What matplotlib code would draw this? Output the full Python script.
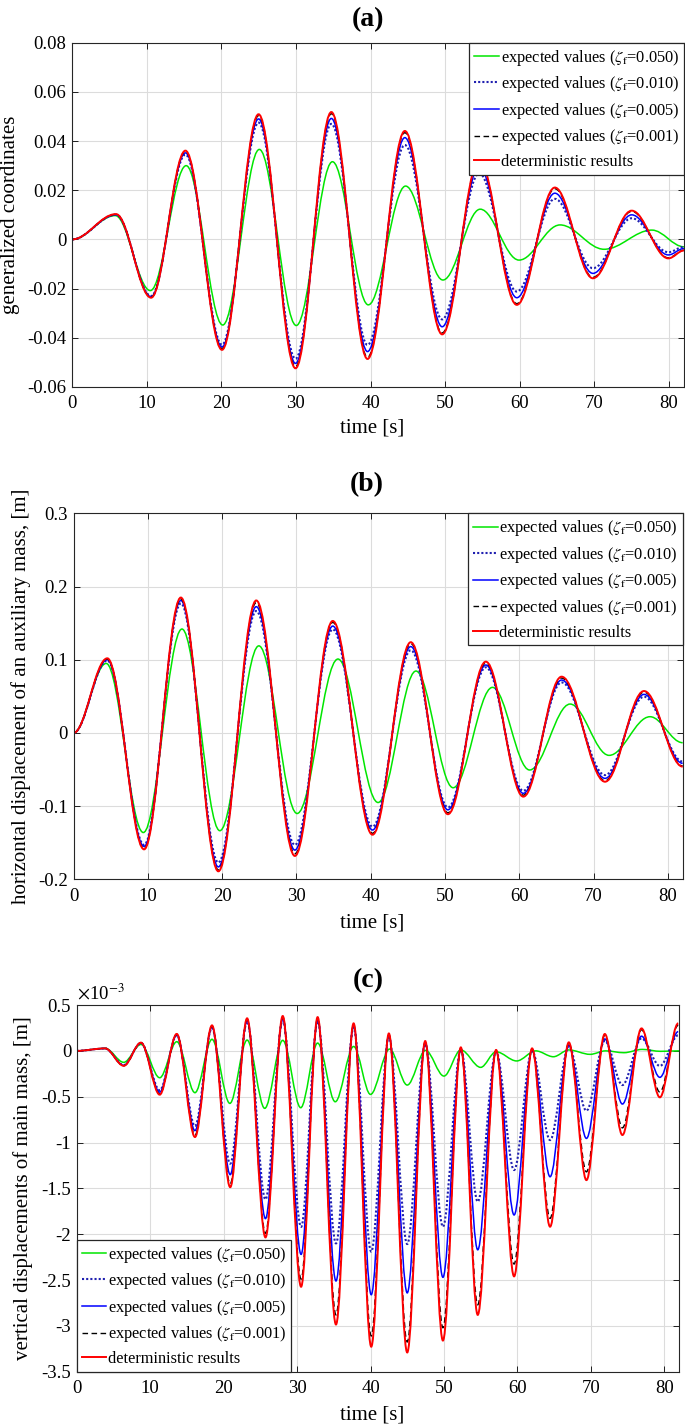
import matplotlib
matplotlib.use('Agg')
import matplotlib.pyplot as plt
from matplotlib.path import Path
from matplotlib.patches import PathPatch
from matplotlib.lines import Line2D
from matplotlib.ticker import FuncFormatter

# ---- data: extrema (time [s], value) of each curve ----
# panel (a): generalized coordinates
t_a = [0, 5.9, 10.6, 15.2, 20.1, 25.0, 29.95, 34.75, 39.6, 44.6, 49.6, 54.55, 59.6, 64.7, 69.8, 75.0, 79.9, 82]
det_a = [0, 0.0103, -0.0237, 0.0361, -0.0449, 0.0509, -0.0524, 0.0518, -0.0486, 0.0441, -0.0386, 0.0323,
         -0.0266, 0.0211, -0.0158, 0.0117, -0.0077, -0.0045]
z001_a = [0, 0.0102, -0.0235, 0.0358, -0.0444, 0.0503, -0.0517, 0.0511, -0.0479, 0.0434, -0.0380, 0.0317,
          -0.0261, 0.0206, -0.0154, 0.0114, -0.0075, -0.0044]
z005_a = [0, 0.0101, -0.0233, 0.0352, -0.0437, 0.0490, -0.0504, 0.0492, -0.0456, 0.0414, -0.0355, 0.0296,
          -0.0237, 0.0188, -0.0138, 0.0100, -0.0063, -0.0037]
z010_a = [0, 0.0100, -0.0230, 0.0345, -0.0428, 0.0475, -0.0485, 0.0470, -0.0429, 0.0384, -0.0325, 0.0269,
          -0.0212, 0.0165, -0.0117, 0.0086, -0.0052, -0.0030]
tg_a = [0, 5.8, 10.5, 15.3, 20.2, 25.1, 30.05, 34.9, 39.7, 44.7, 49.7, 54.7, 59.9, 65.4, 71.3, 77.7, 82]
z050_a = [0, 0.0097, -0.0208, 0.0300, -0.0348, 0.0366, -0.0350, 0.0316, -0.0266, 0.0217, -0.0165, 0.0123,
          -0.0084, 0.0059, -0.0040, 0.0038, -0.0030]

# panel (b): horizontal displacement of an auxiliary mass [m]
t_b = [0, 4.55, 9.5, 14.45, 19.5, 24.6, 29.8, 34.9, 40.25, 45.4, 50.4, 55.5, 60.55, 65.7, 71.55, 76.8, 82]
det_b = [0, 0.102, -0.159, 0.185, -0.189, 0.181, -0.168, 0.153, -0.139, 0.124, -0.111, 0.0974, -0.087,
         0.0769, -0.0666, 0.0573, -0.046]
z001_b = [0, 0.101, -0.158, 0.183, -0.187, 0.178, -0.165, 0.151, -0.137, 0.122, -0.109, 0.0955, -0.085,
          0.075, -0.065, 0.0558, -0.045]
z005_b = [0, 0.100, -0.155, 0.181, -0.183, 0.1725, -0.160, 0.146, -0.1326, 0.118, -0.105, 0.0928, -0.0825,
          0.0723, -0.062, 0.0527, -0.0415]
z010_b = [0, 0.099, -0.153, 0.177, -0.177, 0.1666, -0.153, 0.1415, -0.128, 0.113, -0.1016, 0.0896, -0.079,
          0.069, -0.0575, 0.0495, -0.039]
tg_b = [0, 4.4, 9.4, 14.6, 19.7, 24.95, 30.1, 35.6, 41.0, 46.1, 51.1, 56.4, 61.4, 66.85, 72.1, 77.6, 82]
z050_b = [0, 0.095, -0.136, 0.142, -0.1335, 0.119, -0.110, 0.101, -0.095, 0.0846, -0.0748, 0.0623, -0.0506,
          0.0395, -0.0306, 0.0222, -0.0133]

# panel (c): vertical displacements of main mass [m], in units of 1e-3
t_c = [0, 3.87, 6.4, 8.75, 11.3, 13.62, 16.1, 18.42, 20.9, 23.2, 25.7, 28.05, 30.55, 32.8, 35.3, 37.7, 40.1,
       42.5, 45.0, 47.45, 49.86, 52.3, 54.6, 57.1, 59.55, 62.0, 64.45, 67.0, 69.4, 71.9, 74.3, 76.9, 79.4, 81.9]
det_c = [0, 0.027, -0.163, 0.09, -0.478, 0.185, -0.94, 0.278, -1.487, 0.355, -2.035, 0.38, -2.573, 0.368,
         -2.985, 0.30, -3.227, 0.19, -3.29, 0.107, -3.16, 0.038, -2.88, 0.01, -2.46, 0.027, -1.918, 0.093,
         -1.41, 0.184, -0.918, 0.245, -0.507, 0.30]
z001_c = [0, 0.027, -0.162, 0.089, -0.47, 0.18, -0.92, 0.27, -1.45, 0.345, -1.99, 0.37, -2.49, 0.358, -2.88,
          0.29, -3.11, 0.18, -3.175, 0.10, -3.02, 0.03, -2.77, 0.005, -2.325, 0.02, -1.827, 0.085, -1.32, 0.17,
          -0.84, 0.23, -0.45, 0.28]
z005_c = [0, 0.026, -0.158, 0.087, -0.45, 0.175, -0.87, 0.26, -1.35, 0.33, -1.83, 0.35, -2.22, 0.335, -2.51,
          0.27, -2.66, 0.165, -2.64, 0.085, -2.47, 0.02, -2.17, -0.005, -1.79, 0.005, -1.373, 0.06, -0.955,
          0.13, -0.58, 0.16, -0.289, 0.21]
z010_c = [0, 0.026, -0.155, 0.085, -0.43, 0.17, -0.82, 0.25, -1.23, 0.32, -1.62, 0.335, -1.92, 0.32, -2.1,
          0.255, -2.19, 0.15, -2.107, 0.075, -1.918, 0.015, -1.645, -0.01, -1.3, 0.0, -0.973, 0.05, -0.653,
          0.11, -0.373, 0.136, -0.165, 0.17]
tg_c = [0, 3.9, 6.4, 8.75, 11.3, 13.62, 16.1, 18.42, 20.85, 23.2, 25.6, 28.05, 30.5, 32.8, 35.2, 37.7, 40.0,
        42.6, 45.0, 47.5, 50.0, 52.3, 55.0, 57.1, 59.9, 62.5, 64.9, 67.0, 69.9, 72.0, 74.5, 77.0, 79.5, 82]
z050_c = [0, 0.027, -0.125, 0.07, -0.293, 0.10, -0.456, 0.126, -0.573, 0.118, -0.627, 0.115, -0.62, 0.085,
          -0.555, 0.048, -0.475, 0.02, -0.373, 0.005, -0.275, 0.01, -0.18, -0.01, -0.11, 0.0, -0.064, 0.01,
          -0.038, 0.0, -0.02, 0.016, -0.005, 0.0]

labels = [r'expected values ($\zeta_\mathrm{f}$=0.050)',
          r'expected values ($\zeta_\mathrm{f}$=0.010)',
          r'expected values ($\zeta_\mathrm{f}$=0.005)',
          r'expected values ($\zeta_\mathrm{f}$=0.001)',
          'deterministic results']

styles = [dict(color='#00e600', lw=1.1, ls='-'),
          dict(color='#2020b0', lw=1.5, ls=(0, (1, 1))),
          dict(color='#0000ff', lw=1.1, ls='-'),
          dict(color='black', lw=1.0, ls=(0, (4, 2.5))),
          dict(color='#ff0000', lw=1.4, ls='-')]

plt.rcParams['font.family'] = ['Liberation Serif', 'DejaVu Serif']
plt.rcParams['mathtext.fontset'] = 'stix'
plt.rcParams['axes.unicode_minus'] = False


def _smooth_path(t, v, k):
    # cubic bezier through the extrema, flat tangent at each one
    verts = [(t[0], v[0])]
    codes = [Path.MOVETO]
    for i in range(1, len(t)):
        dt = t[i] - t[i - 1]
        verts += [(t[i - 1] + k * dt, v[i - 1]), (t[i] - k * dt, v[i]), (t[i], v[i])]
        codes += [Path.CURVE4] * 3
    return Path(verts, codes)


def _panel(fig, rect, series, ylim, yticks, ylabel, ylabel_x, legend_loc, k):
    ax = fig.add_axes(rect)
    for (t, v), st in zip(series, styles):
        ax.add_patch(PathPatch(_smooth_path(t, v, k), fill=False, edgecolor=st['color'],
                               lw=st['lw'], ls=st['ls'], capstyle='butt'))
    ax.set_xlim(0, 82)
    ax.set_ylim(*ylim)
    ax.set_xticks(range(0, 81, 10))
    ax.set_yticks(yticks)
    ax.yaxis.set_major_formatter(FuncFormatter(lambda y, _: '%g' % round(y, 6)))
    ax.grid(True, color='#dcdcdc', lw=0.8)
    ax.set_axisbelow(True)
    ax.tick_params(direction='in', top=True, right=True, length=4, width=0.6, labelsize=13.5)
    ax.tick_params(axis='x', pad=6)
    ax.tick_params(axis='y', pad=4)
    for s in ax.spines.values():
        s.set_color('#262626')
        s.set_linewidth(0.8)
    ax.set_xlabel('time [s]', fontsize=15)
    ax.xaxis.set_label_coords(0.49, -0.092)
    ax.set_ylabel(ylabel, fontsize=15)
    ax.yaxis.set_label_coords(ylabel_x, 0.5)
    handles = [Line2D([], [], **st) for st in styles]
    leg = ax.legend(handles, labels, loc=legend_loc, fontsize=11.8, borderaxespad=0, fancybox=False,
                    edgecolor='#262626', framealpha=1, handlelength=1.5, handletextpad=0.1,
                    labelspacing=0.4, borderpad=0.3)
    leg.get_frame().set_linewidth(0.9)
    return ax


fig = plt.figure(figsize=(6.85, 14.28), dpi=100)

_panel(fig, [0.1051, 0.729, 0.8934, 0.2411],
       [(tg_a, z050_a), (t_a, z010_a), (t_a, z005_a), (t_a, z001_a), (t_a, det_a)],
       (-0.06, 0.08), [-0.06, -0.04, -0.02, 0, 0.02, 0.04, 0.06, 0.08],
       'generalized coordinates', -0.085, 'upper right', 0.36)

_panel(fig, [0.1073, 0.3842, 0.8893, 0.2563],
       [(tg_b, z050_b), (t_b, z010_b), (t_b, z005_b), (t_b, z001_b), (t_b, det_b)],
       (-0.2, 0.3), [-0.2, -0.1, 0, 0.1, 0.2, 0.3],
       'horizontal displacement of an auxiliary mass, [m]', -0.07, 'upper right', 0.36)

ax_c = _panel(fig, [0.112, 0.0394, 0.8792, 0.2568],
              [(tg_c, z050_c), (t_c, z010_c), (t_c, z005_c), (t_c, z001_c), (t_c, det_c)],
              (-3.5, 0.5), [-3.5, -3, -2.5, -2, -1.5, -1, -0.5, 0, 0.5],
              'vertical displacements of main mass, [m]', -0.073, 'lower left', 0.34)
ax_c.text(0.0, 1.005, r'$\times$10$^{\mathrm{-3}}$', transform=ax_c.transAxes, fontsize=13.5,
          ha='left', va='bottom')

fig.text(368 / 685, 1 - 20 / 1428, '(a)', fontsize=20, fontweight='bold', ha='center', va='center')
fig.text(367 / 685, 1 - 485 / 1428, '(b)', fontsize=20, fontweight='bold', ha='center', va='center')
fig.text(368 / 685, 1 - 981 / 1428, '(c)', fontsize=20, fontweight='bold', ha='center', va='center')

fig.savefig('out.png', dpi=100)
